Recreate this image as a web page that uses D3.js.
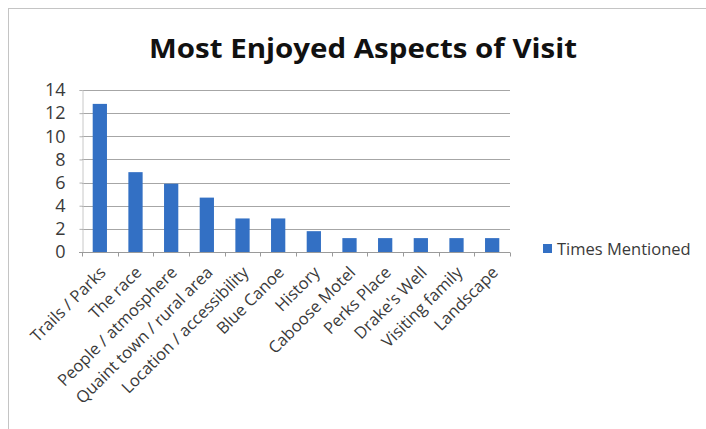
<!DOCTYPE html>
<html>
<head>
<meta charset="utf-8">
<script src="https://cdn.jsdelivr.net/npm/d3@7"></script>
<style>
  body { margin: 0; background: #fff; }
  text { font-family: "Open Sans", "Noto Sans", sans-serif; }
</style>
</head>
<body>
<div id="chart"></div>
<script>
// values
var categories = ["Trails / Parks", "The race", "People / atmosphere", "Quaint town / rural area",
                  "Location / accessibility", "Blue Canoe", "History", "Caboose Motel",
                  "Perks Place", "Drake's Well", "Visiting family", "Landscape"];
var timesMentioned = [12.8, 6.9, 5.9, 4.7, 2.9, 2.9, 1.8, 1.2, 1.2, 1.2, 1.2, 1.2];
var yTicks = [0, 2, 4, 6, 8, 10, 12, 14];
var seriesName = "Times Mentioned";
var chartTitle = "Most Enjoyed Aspects of Visit";

function draw(){
    var width = 706, height = 429;
    var margin = {top: 90, right: 196, bottom: 177, left: 82};

    var svg = d3.select("#chart").append("svg")
        .attr("width", width)
        .attr("height", height);

    // chart area frame
    svg.append("rect")
        .attr("x", 8.5).attr("y", 8.5)
        .attr("width", 720).attr("height", 440)
        .attr("fill", "none")
        .attr("stroke", "#c4c4c4");

    var xScale = d3.scaleBand()
        .domain(categories)
        .range([margin.left, width - margin.right])
        .paddingInner(0.6)
        .paddingOuter(0.3);

    var yScale = d3.scaleLinear()
        .domain([0, 14])
        .range([height - margin.bottom, margin.top]);

    // gridlines
    svg.append("g")
        .selectAll("line")
        .data(yTicks.filter(d => d > 0))
        .enter().append("line")
        .attr("x1", margin.left)
        .attr("x2", width - margin.right)
        .attr("y1", d => Math.round(yScale(d)) + 0.5)
        .attr("y2", d => Math.round(yScale(d)) + 0.5)
        .attr("stroke", "#a6a6a6")
        .attr("stroke-width", 1);

    // y axis
    var yAxis = svg.append("g")
        .attr("transform", "translate(" + (margin.left + 0.5) + ",0)")
        .call(d3.axisLeft(yScale).tickValues(yTicks).tickSize(3).tickPadding(14));
    yAxis.select(".domain").attr("stroke", "#c8c8c8");
    yAxis.selectAll(".tick line").attr("stroke", "#b0b0b0");
    yAxis.selectAll("text")
        .style("font-size", "18px")
        .attr("fill", "#3a3a3a");

    // bars
    svg.selectAll("rect.bar")
        .data(timesMentioned)
        .enter().append("rect")
        .attr("class", "bar")
        .attr("x", (d, i) => xScale(categories[i]))
        .attr("width", xScale.bandwidth())
        .attr("y", d => yScale(d))
        .attr("height", d => yScale(0) - yScale(d))
        .attr("fill", "#3370c4");

    // x axis with category boundary ticks
    var base = Math.round(yScale(0)) + 0.5;
    svg.append("line")
        .attr("x1", margin.left - 3).attr("x2", width - margin.right)
        .attr("y1", base).attr("y2", base)
        .attr("stroke", "#9a9a9a");
    var step = xScale.step();
    svg.append("g")
        .selectAll("line")
        .data(d3.range(categories.length + 1))
        .enter().append("line")
        .attr("x1", i => Math.round(margin.left + i * step) + 0.5)
        .attr("x2", i => Math.round(margin.left + i * step) + 0.5)
        .attr("y1", base).attr("y2", base + 4)
        .attr("stroke", "#9a9a9a");

    svg.append("g")
        .selectAll("text")
        .data(categories)
        .enter().append("text")
        .attr("transform", d => "translate(" + (xScale(d) + xScale.bandwidth() / 2 + 7) + "," + (base + 21) + ") rotate(-45)")
        .attr("text-anchor", "end")
        .style("font-size", "16.5px")
        .attr("fill", "#3a3a3a")
        .text(d => d);

    // title
    svg.append("text")
        .attr("x", 363)
        .attr("y", 58)
        .attr("text-anchor", "middle")
        .attr("textLength", 428)
        .attr("lengthAdjust", "spacingAndGlyphs")
        .style("font-size", "26px")
        .style("font-weight", "bold")
        .attr("fill", "#111")
        .text(chartTitle);

    // legend
    svg.append("rect")
        .attr("x", 543).attr("y", 244)
        .attr("width", 9).attr("height", 9)
        .attr("fill", "#3370c4");
    svg.append("text")
        .attr("x", 557)
        .attr("y", 255)
        .style("font-size", "16.5px")
        .attr("fill", "#3a3a3a")
        .text(seriesName);
}

draw();
</script>
</body>
</html>
